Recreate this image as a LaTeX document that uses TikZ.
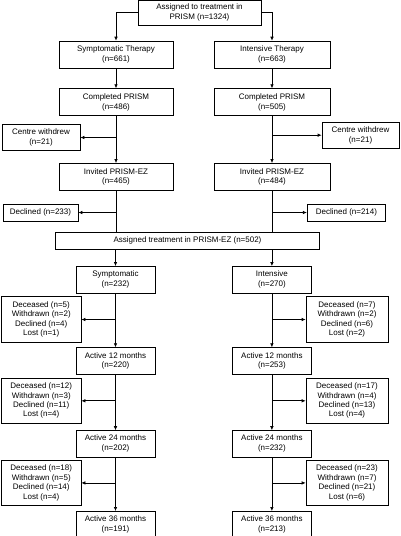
\documentclass[tikz,border=0pt]{standalone}
\usepackage{fontspec}
\setmainfont{Liberation Sans}
\usetikzlibrary{positioning, arrows.meta}

\begin{document}
\begin{tikzpicture}[
    x = 1pt, y = -1pt, align = center,
    font = \fontsize{8}{9.8}\selectfont,
    box/.style = {
      rectangle, draw, line width = 0.7pt, inner sep = 0pt
    },
    stage/.style = {
      box, minimum width = 114pt, minimum height = 27pt
    },
    arm/.style = {
      box, minimum width = 79pt, minimum height = 26.5pt
    },
    % the four reasons for leaving between two visits
    lost/.style = {
      box, minimum width = 80pt, minimum height = 45.5pt,
      font = \fontsize{8}{9.4}\selectfont
    },
    flow/.style = {
      arrows = ->, line width = 0.7pt, > = {Latex[length = 4pt, width = 3.6pt]}
    },
    link/.style = {
      line width = 0.7pt
    },
  ]
\useasboundingbox  (0, 0)  rectangle  (400, 536);

\node  [box, minimum width = 123pt, minimum height = 25pt]  (prism)  at (199.5, 12.5)  {Assigned to treatment in\\PRISM (n=1324)};
\node  [stage]  (st_sym)  at (116, 54.5)  {Symptomatic Therapy\\(n=661)};
\node  [stage, minimum width = 116pt]  (st_int)  at (272, 54.5)  {Intensive Therapy\\(n=663)};
\node  [stage]  (cp_sym)  [below = 20pt of st_sym]  {Completed PRISM\\(n=486)};
\node  [stage, minimum width = 116pt]  (cp_int)  [below = 20pt of st_int]  {Completed PRISM\\(n=505)};
\node  [box, minimum width = 78pt, minimum height = 26.5pt]  (cw_sym)  at (41, 137.5)  {Centre withdrew\\(n=21)};
\node  [box, minimum width = 77pt, minimum height = 25.5pt]  (cw_int)  at (360.5, 135.2)  {Centre withdrew\\(n=21)};
\node  [stage]  (inv_sym)  [below = 47pt of cp_sym]  {Invited PRISM-EZ\\(n=465)};
\node  [stage, minimum width = 116pt]  (inv_int)  [below = 47pt of cp_int]  {Invited PRISM-EZ\\(n=484)};
\node  [box, minimum width = 75pt, minimum height = 17pt]  (dec_sym)  at (40.5, 212.5)  {Declined (n=233)};
\node  [box, minimum width = 78.5pt, minimum height = 17pt]  (dec_int)  at (346.5, 212.5)  {Declined (n=214)};
\node  [box, minimum width = 263.6pt, minimum height = 17pt]  (ez)  at (187.5, 240.8)  {Assigned treatment in PRISM-EZ (n=502)};

\node  [arm]  (sym)  at (115.5, 279.7)  {Symptomatic\\(n=232)};
\node  [arm, minimum width = 78.3pt]  (int)  at (271.9, 279.7)  {Intensive\\(n=270)};
\node  [arm]  (m12_sym)  [below = 54pt of sym]  {Active 12 months\\(n=220)};
\node  [arm, minimum width = 78.3pt]  (m12_int)  [below = 54pt of int]  {Active 12 months\\(n=253)};
\node  [arm]  (m24_sym)  [below = 55.7pt of m12_sym]  {Active 24 months\\(n=202)};
\node  [arm, minimum width = 78.3pt]  (m24_int)  [below = 55.7pt of m12_int]  {Active 24 months\\(n=232)};
\node  [arm]  (m36_sym)  [below = 53.6pt of m24_sym]  {Active 36 months\\(n=191)};
\node  [arm, minimum width = 78.3pt]  (m36_int)  [below = 53.6pt of m24_int]  {Active 36 months\\(n=213)};

\node  [lost, minimum width = 79.5pt]  (l12_sym)  at (41.25, 319.5)  {Deceased (n=5)\\Withdrawn (n=2)\\Declined (n=4)\\Lost (n=1)};
\node  [lost, minimum width = 82pt]  (l12_int)  at (347, 319.5)  {Deceased (n=7)\\Withdrawn (n=2)\\Declined (n=6)\\Lost (n=2)};
\node  [lost, minimum width = 79.5pt]  (l24_sym)  at (41.25, 400.8)  {Deceased (n=12)\\Withdrawn (n=3)\\Declined (n=11)\\Lost (n=4)};
\node  [lost, minimum width = 82pt]  (l24_int)  at (347, 400.8)  {Deceased (n=17)\\Withdrawn (n=4)\\Declined (n=13)\\Lost (n=4)};
\node  [lost, minimum width = 79.5pt]  (l36_sym)  at (41.25, 482.9)  {Deceased (n=18)\\Withdrawn (n=5)\\Declined (n=14)\\Lost (n=4)};
\node  [lost, minimum width = 82pt]  (l36_int)  at (347, 482.9)  {Deceased (n=23)\\Withdrawn (n=7)\\Declined (n=21)\\Lost (n=6)};

\draw  [flow]  (prism.west)  -|  (st_sym.north);
\draw  [flow]  (prism.east)  -|  (st_int.north);
\draw  [flow]  (st_sym)  --  (cp_sym);
\draw  [flow]  (st_int)  --  (cp_int);
\draw  [flow]  (cp_sym)  --  (inv_sym);
\draw  [flow]  (cp_int)  --  (inv_int);
\draw  [flow]  (cp_sym.south |- cw_sym)  --  (cw_sym);
\draw  [flow]  (cp_int.south |- cw_int)  --  (cw_int);
\draw  [link]  (inv_sym)  --  (inv_sym |- ez.north);
\draw  [link]  (inv_int)  --  (inv_int |- ez.north);
\draw  [flow]  (inv_sym.south |- dec_sym)  --  (dec_sym);
\draw  [flow]  (inv_int.south |- dec_int)  --  (dec_int);
\draw  [flow]  (sym |- ez.south)  --  (sym);
\draw  [flow]  (int |- ez.south)  --  (int);

\draw  [flow]  (sym)  --  (m12_sym);
\draw  [flow]  (int)  --  (m12_int);
\draw  [flow]  (m12_sym)  --  (m24_sym);
\draw  [flow]  (m12_int)  --  (m24_int);
\draw  [flow]  (m24_sym)  --  (m36_sym);
\draw  [flow]  (m24_int)  --  (m36_int);
\draw  [flow]  (sym.south |- l12_sym)  --  (l12_sym);
\draw  [flow]  (int.south |- l12_int)  --  (l12_int);
\draw  [flow]  (m12_sym.south |- l24_sym)  --  (l24_sym);
\draw  [flow]  (m12_int.south |- l24_int)  --  (l24_int);
\draw  [flow]  (m24_sym.south |- l36_sym)  --  (l36_sym);
\draw  [flow]  (m24_int.south |- l36_int)  --  (l36_int);

\end{tikzpicture}
\end{document}
